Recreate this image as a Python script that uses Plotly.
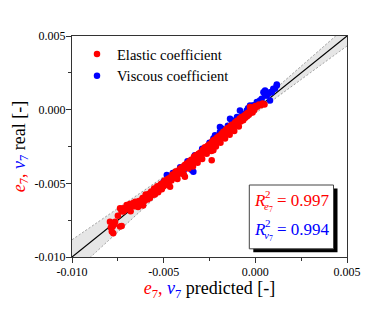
import plotly.graph_objects as go

# ---------------- data ----------------
elastic_pred = [-0.00793, -0.00788, -0.00783, -0.00775, -0.00778, -0.00770, -0.00765, -0.00738, -0.00729, -0.00750,
                -0.00738, -0.00730, -0.00720, -0.00720, -0.00710, -0.00702, -0.00695, -0.00693, -0.00685, -0.00680,
                -0.00675, -0.00666, -0.00660, -0.00655, -0.00647, -0.00640, -0.00635, -0.00628, -0.00620, -0.00615,
                -0.00612, -0.00605, -0.00598, -0.00593, -0.00588, -0.00580, -0.00575, -0.00568, -0.00562, -0.00557,
                -0.00552, -0.00548, -0.00540, -0.00535, -0.00530, -0.00525, -0.00520, -0.00515, -0.00510, -0.00505,
                -0.00500, -0.00495, -0.00490, -0.00483, -0.00478, -0.00472, -0.00465, -0.00465, -0.00458, -0.00452,
                -0.00448, -0.00440, -0.00435, -0.00430, -0.00425, -0.00420, -0.00415, -0.00410, -0.00405, -0.00400,
                -0.00395, -0.00390, -0.00384, -0.00385, -0.00380, -0.00375, -0.00370, -0.00365, -0.00360, -0.00355,
                -0.00350, -0.00345, -0.00340, -0.00335, -0.00330, -0.00325, -0.00320, -0.00315, -0.00310, -0.00305,
                -0.00300, -0.00295, -0.00290, -0.00285, -0.00280, -0.00275, -0.00270, -0.00265, -0.00260, -0.00255,
                -0.00250, -0.00245, -0.00240, -0.00238, -0.00235, -0.00230, -0.00229, -0.00225, -0.00220, -0.00215,
                -0.00210, -0.00205, -0.00200, -0.00195, -0.00190, -0.00185, -0.00180, -0.00175, -0.00170, -0.00165,
                -0.00160, -0.00155, -0.00150, -0.00145, -0.00140, -0.00135, -0.00130, -0.00125, -0.00120, -0.00115,
                -0.00110, -0.00105, -0.00100, -0.00095, -0.00090, -0.00085, -0.00080, -0.00075, -0.00070, -0.00066,
                -0.00060, -0.00055, -0.00050, -0.00045, -0.00040, -0.00035, -0.00029, -0.00025, -0.00020, -0.00015,
                -0.00010, -0.00005, 0.00000, 0.00010, 0.00020, 0.00030, 0.00040, 0.00050]
elastic_real = [-0.00760, -0.00800, -0.00827, -0.00838, -0.00793, -0.00780, -0.00760, -0.00793, -0.00789, -0.00720,
                -0.00669, -0.00690, -0.00692, -0.00669, -0.00680, -0.00647, -0.00660, -0.00658, -0.00640, -0.00690,
                -0.00650, -0.00633, -0.00655, -0.00625, -0.00635, -0.00660, -0.00620, -0.00640, -0.00613, -0.00600,
                -0.00650, -0.00620, -0.00575, -0.00590, -0.00610, -0.00570, -0.00600, -0.00555, -0.00580, -0.00557,
                -0.00535, -0.00575, -0.00545, -0.00520, -0.00560, -0.00530, -0.00523, -0.00505, -0.00540, -0.00500,
                -0.00520, -0.00480, -0.00510, -0.00500, -0.00470, -0.00495, -0.00523, -0.00460, -0.00480, -0.00440,
                -0.00465, -0.00450, -0.00420, -0.00445, -0.00470, -0.00415, -0.00435, -0.00400, -0.00425, -0.00390,
                -0.00410, -0.00440, -0.00455, -0.00375, -0.00395, -0.00365, -0.00385, -0.00400, -0.00350, -0.00375,
                -0.00340, -0.00365, -0.00385, -0.00320, -0.00345, -0.00310, -0.00335, -0.00360, -0.00300, -0.00320,
                -0.00290, -0.00310, -0.00335, -0.00270, -0.00295, -0.00255, -0.00280, -0.00300, -0.00245, -0.00265,
                -0.00235, -0.00255, -0.00280, -0.00343, -0.00215, -0.00240, -0.00275, -0.00205, -0.00230, -0.00250,
                -0.00190, -0.00215, -0.00180, -0.00200, -0.00225, -0.00165, -0.00190, -0.00150, -0.00175, -0.00195,
                -0.00135, -0.00160, -0.00125, -0.00145, -0.00170, -0.00110, -0.00130, -0.00100, -0.00120, -0.00145,
                -0.00085, -0.00105, -0.00075, -0.00095, -0.00115, -0.00060, -0.00080, -0.00050, -0.00070, -0.00072,
                -0.00040, -0.00055, -0.00030, -0.00045, -0.00020, -0.00035, 0.00018, -0.00010, 0.00000, -0.00020,
                0.00015, 0.00000, 0.00025, 0.00020, 0.00035, 0.00030, 0.00042, 0.00035]

viscous_pred = [-0.00500, -0.00483, -0.00470, -0.00450, -0.00430, -0.00410, -0.00390, -0.00370, -0.00347, -0.00338,
                -0.00330, -0.00310, -0.00290, -0.00270, -0.00250, -0.00229, -0.00220, -0.00210, -0.00193, -0.00193,
                -0.00183, -0.00170, -0.00150, -0.00138, -0.00138, -0.00129, -0.00110, -0.00100, -0.00084, -0.00070,
                -0.00047, -0.00040, -0.00029, -0.00010, 0.00008, 0.00025, 0.00035, 0.00044, 0.00053, 0.00053,
                0.00062, 0.00071, 0.00080, 0.00080, 0.00090, 0.00098, 0.00107, 0.00117, 0.00117]
viscous_real = [-0.00490, -0.00444, -0.00475, -0.00430, -0.00450, -0.00390, -0.00410, -0.00350, -0.00410, -0.00422,
                -0.00310, -0.00320, -0.00265, -0.00285, -0.00225, -0.00196, -0.00174, -0.00205, -0.00151, -0.00118,
                -0.00128, -0.00150, -0.00110, -0.00118, -0.00061, -0.00072, -0.00080, -0.00050, -0.00005, -0.00030,
                -0.00005, 0.00010, 0.00029, 0.00030, 0.00052, 0.00063, 0.00074, 0.00119, 0.00097, 0.00130,
                0.00097, 0.00108, 0.00063, 0.00119, 0.00119, 0.00142, 0.00142, 0.00164, 0.00171]

line_x = [-0.010, 0.005]
band_x = [-0.010, -0.0075, -0.005, -0.0025, 0.000, 0.0025, 0.005]
band_half = [0.00117, 0.00080, 0.00045, 0.00022, 0.00025, 0.00045, 0.00068]

tick_vals = [-0.010, -0.005, 0.000, 0.005]
tick_text = ["-0.010", "-0.005", "0.000", "0.005"]

r2_elastic = "0.997"
r2_viscous = "0.994"

RED = "#ff0000"
BLUE = "#0000ff"
FONT = "Liberation Serif"

# ---------------- figure ----------------
# page body has an 8 px default margin; compensate
OFF = 8
W, H = 389 - OFF, 309 - OFF
L, R, T, B = 72 - OFF, 42, 36 - OFF, 52
PW, PH = W - L - R, H - T - B


def px(xpix):
    # xpix: screen pixel in the 389x309 window
    return (xpix - OFF - L) / PW


def py(ypix):
    return (H - B - (ypix - OFF)) / PH


fig = go.Figure()

band_lo = [x - h for x, h in zip(band_x, band_half)]
band_hi = [x + h for x, h in zip(band_x, band_half)]
fig.add_trace(go.Scatter(x=band_x, y=band_lo, mode="lines",
                         line=dict(color="#999999", width=1, dash="2px,2px", shape="spline"),
                         showlegend=False, hoverinfo="skip"))
fig.add_trace(go.Scatter(x=band_x, y=band_hi, mode="lines", fill="tonexty",
                         fillcolor="#e6e6e6",
                         line=dict(color="#999999", width=1, dash="2px,2px", shape="spline"),
                         showlegend=False, hoverinfo="skip"))
fig.add_trace(go.Scatter(x=line_x, y=line_x, mode="lines",
                         line=dict(color="black", width=1.2),
                         showlegend=False, hoverinfo="skip"))

fig.add_trace(go.Scatter(x=viscous_pred, y=viscous_real, mode="markers",
                         name="Viscous coefficient",
                         marker=dict(color=BLUE, size=6.5)))
fig.add_trace(go.Scatter(x=elastic_pred, y=elastic_real, mode="markers",
                         name="Elastic coefficient",
                         marker=dict(color=RED, size=6.5)))

axis_common = dict(
    range=[-0.010, 0.005], tickvals=tick_vals, ticktext=tick_text,
    showgrid=False, zeroline=False, showline=True, linecolor="#333333",
    linewidth=1.2, mirror=True, ticks="outside", ticklen=5, tickwidth=1,
    tickcolor="#333333", tickfont=dict(family=FONT, size=12, color="black"),
    minor=dict(dtick=0.0025, tick0=0, ticks="outside", ticklen=3,
               tickcolor="#333333", tickwidth=1, showgrid=False),
    automargin=False,
)

x_title = (f"<span style='color:{RED}'><i>e</i><sub>7</sub>,</span> "
           f"<span style='color:{BLUE}'><i>v</i><sub>7</sub></span> predicted [-]")
y_title = (f"<span style='color:{RED}'><i>e</i><sub>7</sub>,</span> "
           f"<span style='color:{BLUE}'><i>v</i><sub>7</sub></span> real [-]")

fig.update_xaxes(**axis_common, ticklabelstandoff=-2,
                 title=dict(text=x_title, font=dict(family=FONT, size=18, color="black"), standoff=2))
fig.update_yaxes(**axis_common, ticklabelstandoff=-2,
                 title=dict(text=y_title, font=dict(family=FONT, size=18, color="black"), standoff=4))

# R^2 box with shadow
bx0, bx1, by0, by1 = 249.3, 333.5, 185.0, 248.8
fig.add_shape(type="rect", xref="paper", yref="paper",
              x0=px(bx0 + 4), x1=px(bx1 + 4), y0=py(by1 + 3.5), y1=py(by0 + 3.5),
              fillcolor="black", line=dict(width=0))
fig.add_shape(type="rect", xref="paper", yref="paper",
              x0=px(bx0), x1=px(bx1), y0=py(by1), y1=py(by0),
              fillcolor="white", line=dict(color="#444444", width=1))

ann = []
for text_val, sub, color, cy in [(r2_elastic, "e", RED, 200.5), (r2_viscous, "v", BLUE, 229.5)]:
    ann.append(dict(text="<i>R</i>", x=px(251.5), y=py(cy), xref="paper", yref="paper",
                    xanchor="left", yanchor="middle", showarrow=False,
                    font=dict(family=FONT, size=17, color=color)))
    ann.append(dict(text="2", x=px(262.5), y=py(cy - 6.5), xref="paper", yref="paper",
                    xanchor="left", yanchor="middle", showarrow=False,
                    font=dict(family=FONT, size=11, color=color)))
    ann.append(dict(text=f"<i>{sub}</i><sub>7</sub>", x=px(261.5), y=py(cy + 6.5), xref="paper", yref="paper",
                    xanchor="left", yanchor="middle", showarrow=False,
                    font=dict(family=FONT, size=11, color=color)))
    ann.append(dict(text=f"= {text_val}", x=px(275), y=py(cy), xref="paper", yref="paper",
                    xanchor="left", yanchor="middle", showarrow=False,
                    font=dict(family=FONT, size=17, color=color)))

fig.update_layout(
    width=W, height=H,
    margin=dict(l=L, r=R, t=T, b=B),
    paper_bgcolor="white", plot_bgcolor="white",
    font=dict(family=FONT, color="black"),
    legend=dict(x=px(77), y=py(38), xanchor="left", yanchor="top",
                traceorder="reversed", bgcolor="rgba(0,0,0,0)",
                font=dict(family=FONT, size=14.5, color="black"),
                itemsizing="trace", tracegroupgap=0),
    annotations=ann,
    showlegend=True,
)

fig.write_html("out.html")
